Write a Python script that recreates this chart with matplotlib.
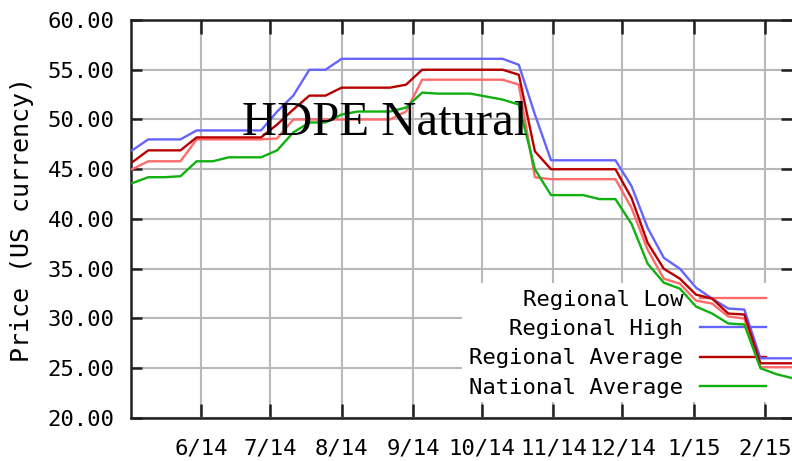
import numpy as np
import pandas as pd
import matplotlib
matplotlib.use('Agg')
import matplotlib.pyplot as plt
from matplotlib.patches import Rectangle
from datetime import datetime

# weekly price readings, May 2014 - Feb 2015
weeks = pd.date_range('2014-05-02', periods=42, freq='7D')

regional_high = [46.9, 48.0, 48.0, 48.0, 48.9, 48.9, 48.9, 48.9, 48.9, 50.8,
                 52.4, 55.0, 55.0, 56.1, 56.1, 56.1, 56.1, 56.1, 56.1, 56.1,
                 56.1, 56.1, 56.1, 56.1, 55.5, 50.5, 45.9, 45.9, 45.9, 45.9,
                 45.9, 43.3, 39.1, 36.1, 35.0, 33.1, 32.0, 31.0, 30.9, 26.0,
                 26.0, 26.0]
regional_avg = [45.7, 46.9, 46.9, 46.9, 48.2, 48.2, 48.2, 48.2, 48.2, 49.5,
                51.0, 52.4, 52.4, 53.2, 53.2, 53.2, 53.2, 53.5, 55.0, 55.0,
                55.0, 55.0, 55.0, 55.0, 54.5, 46.8, 45.0, 45.0, 45.0, 45.0,
                45.0, 42.1, 37.6, 35.0, 34.0, 32.4, 32.0, 30.5, 30.4, 25.5,
                25.5, 25.5]
regional_low = [45.0, 45.8, 45.8, 45.8, 48.0, 48.0, 48.0, 48.0, 48.0, 48.1,
                50.0, 50.0, 50.0, 50.0, 50.0, 50.0, 50.0, 50.8, 54.0, 54.0,
                54.0, 54.0, 54.0, 54.0, 53.5, 44.2, 44.0, 44.0, 44.0, 44.0,
                44.0, 41.1, 36.9, 34.0, 33.5, 31.8, 31.5, 30.2, 30.0, 25.1,
                25.1, 25.1]
national_avg = [43.6, 44.2, 44.2, 44.3, 45.8, 45.8, 46.2, 46.2, 46.2, 46.9,
                48.7, 49.7, 49.7, 50.5, 50.8, 50.8, 50.8, 51.2, 52.7, 52.6,
                52.6, 52.6, 52.3, 52.0, 51.5, 45.0, 42.4, 42.4, 42.4, 42.0,
                42.0, 39.5, 35.5, 33.6, 33.0, 31.2, 30.5, 29.5, 29.4, 25.0,
                24.4, 24.0]

month_ticks = pd.date_range('2014-06-01', '2015-02-01', freq='MS')
month_labels = ['6/14', '7/14', '8/14', '9/14', '10/14', '11/14', '12/14', '1/15', '2/15']
y_ticks = np.arange(20, 61, 5)

mono = 'DejaVu Sans Mono'

fig = plt.figure(figsize=(7.92, 4.61), dpi=100)
ax = fig.add_axes([131/792, 43/461, 661/792, 398/461])
ax.set_axisbelow(True)

ax.plot(weeks, regional_low, color='#ff6a6a', lw=1.7, label='Regional Low', zorder=3)
ax.plot(weeks, regional_high, color='#6464ff', lw=1.7, label='Regional High', zorder=3)
ax.plot(weeks, regional_avg, color='#b80000', lw=1.7, label='Regional Average', zorder=3)
ax.plot(weeks, national_avg, color='#10b010', lw=1.7, label='National Average', zorder=3)

ax.set_xlim(datetime(2014, 5, 1, 12), datetime(2015, 2, 12, 17))
ax.set_ylim(20, 60)
ax.set_xticks(month_ticks)
ax.set_xticklabels(month_labels, fontfamily=mono, fontsize=16)
ax.set_yticks(y_ticks)
ax.set_yticklabels([f'{v:.2f}' for v in y_ticks], fontfamily=mono, fontsize=16)
ax.grid(True, color='#b8b8b8', lw=1.5)

for s in ['left', 'bottom', 'top']:
    ax.spines[s].set_color('#202020')
    ax.spines[s].set_linewidth(1.8)
ax.spines['right'].set_visible(False)
ax.tick_params(axis='x', direction='in', top=True, length=10, width=1.8, pad=15, color='#202020')
ax.tick_params(axis='y', direction='in', right=True, length=8, width=1.8, pad=12, color='#202020')

ax.set_ylabel('Price (US currency)', fontfamily=mono, fontsize=18, labelpad=10)

# white patch behind the key
ax.add_patch(Rectangle((0.501, 0.04), 0.6, 0.299, transform=ax.transAxes,
                       facecolor='white', edgecolor='none', zorder=1))
leg = ax.legend(loc='upper right', bbox_to_anchor=(0.978, 0.35), frameon=False,
                markerfirst=False, borderpad=0, handlelength=3.0, handletextpad=0.75,
                labelspacing=0.42, prop={'family': mono, 'size': 16})
leg.set_zorder(2)

fig.text(385/792, 1 - 135/461, 'HDPE Natural', ha='center', va='baseline',
         fontfamily='Liberation Serif', fontsize=35)

fig.savefig('out.png', dpi=100)
